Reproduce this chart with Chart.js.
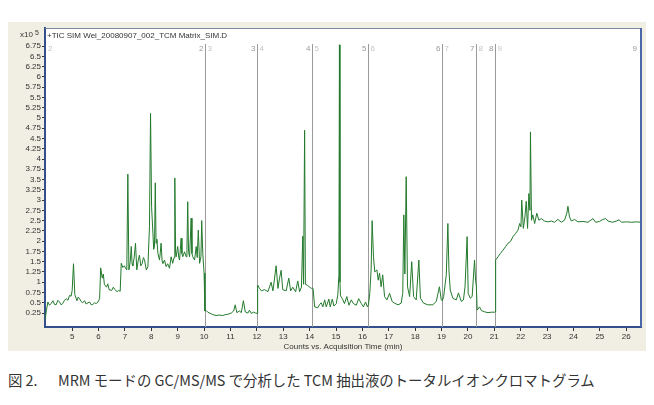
<!DOCTYPE html>
<html>
<head>
<meta charset="utf-8">
<script src="https://cdn.jsdelivr.net/npm/chart.js@4/dist/chart.umd.min.js"></script>
<style>
  body { margin: 0; background: #fff; }
  #wrap { position: relative; width: 654px; height: 405px; overflow: hidden; }
  #c { position: absolute; left: 0; top: 0; }
  #caption {
    position: absolute; left: 8px; top: 369px; white-space: nowrap;
    font-family: "Noto Sans CJK JP", sans-serif;
    font-size: 14.4px; color: #333;
  }
  #caption .fig { display: inline-block; width: 50px; }
</style>
</head>
<body>
<div id="wrap">
  <canvas id="c" width="654" height="358"></canvas>
  <div id="caption"><span class="fig">図 2.</span>MRM モードの GC/MS/MS で分析した TCM 抽出液のトータルイオンクロマトグラム</div>
</div>
<script>
// retention time (min) and abundance (x10^5 counts)
const times = [
  3.98, 4.02, 4.08, 4.14, 4.20, 4.27, 4.33, 4.39, 4.46, 4.52, 4.58, 4.64, 4.70, 4.77, 4.84, 4.90, 4.96, 5.00, 5.05, 5.10,
  5.18, 5.23, 5.28, 5.34, 5.40, 5.47, 5.53, 5.60, 5.66, 5.72, 5.78, 5.85, 5.91, 5.98, 6.04, 6.08, 6.14, 6.18, 6.22, 6.30,
  6.35, 6.40, 6.50, 6.56, 6.62, 6.70, 6.76, 6.82, 6.86, 6.92, 6.98, 7.03, 7.07, 7.11, 7.15, 7.20, 7.24, 7.27, 7.30, 7.35,
  7.40, 7.45, 7.50, 7.55, 7.60, 7.65, 7.70, 7.74, 7.81, 7.87, 7.93, 7.97, 8.01, 8.06, 8.09, 8.12, 8.15, 8.18, 8.21, 8.25,
  8.31, 8.34, 8.37, 8.41, 8.44, 8.50, 8.56, 8.62, 8.69, 8.75, 8.81, 8.86, 8.89, 8.92, 8.94, 9.00, 9.04, 9.07, 9.13, 9.16,
  9.19, 9.26, 9.32, 9.35, 9.38, 9.41, 9.45, 9.51, 9.54, 9.57, 9.64, 9.70, 9.74, 9.78, 9.83, 9.88, 9.91, 9.95, 10.00, 10.03,
  10.08, 10.14, 10.21, 10.33, 10.46, 10.58, 10.71, 10.80, 10.90, 11.03, 11.12, 11.18, 11.24, 11.34, 11.41, 11.49, 11.56, 11.66, 11.72, 11.79,
  11.87, 11.95, 12.01, 12.03, 12.10, 12.17, 12.29, 12.42, 12.54, 12.61, 12.73, 12.80, 12.86, 12.92, 12.98, 13.11, 13.21, 13.28, 13.36, 13.47,
  13.55, 13.62, 13.69, 13.74, 13.77, 13.81, 13.84, 13.93, 14.00, 14.07, 14.10, 14.13, 14.19, 14.31, 14.38, 14.44, 14.50, 14.57, 14.63, 14.73,
  14.78, 14.86, 14.92, 15.01, 15.07, 15.11, 15.13, 15.15, 15.17, 15.24, 15.32, 15.41, 15.49, 15.58, 15.66, 15.77, 15.86, 15.96, 16.04, 16.12,
  16.19, 16.23, 16.28, 16.33, 16.37, 16.42, 16.47, 16.55, 16.60, 16.65, 16.71, 16.77, 16.84, 16.93, 17.03, 17.13, 17.22, 17.35, 17.47, 17.53,
  17.57, 17.61, 17.66, 17.71, 17.79, 17.87, 17.94, 18.04, 18.14, 18.20, 18.32, 18.48, 18.67, 18.80, 18.92, 18.99, 19.03, 19.08, 19.18, 19.24,
  19.28, 19.33, 19.43, 19.56, 19.64, 19.75, 19.83, 19.89, 19.97, 20.01, 20.09, 20.16, 20.25, 20.29, 20.32, 20.35, 20.44, 20.51, 20.63, 20.76,
  20.89, 21.00, 21.04, 21.05, 21.14, 21.23, 21.33, 21.43, 21.52, 21.61, 21.71, 21.81, 21.90, 21.96, 22.01, 22.04, 22.10, 22.16, 22.21, 22.26,
  22.31, 22.35, 22.37, 22.41, 22.46, 22.53, 22.61, 22.69, 22.78, 22.90, 23.03, 23.16, 23.28, 23.41, 23.54, 23.66, 23.75, 23.79, 23.85, 23.92,
  24.04, 24.17, 24.36, 24.55, 24.74, 24.84, 24.99, 25.12, 25.22, 25.31, 25.48, 25.63, 25.73, 25.82, 26.01, 26.20, 26.39, 26.56
];
const counts = [
  0.10, 0.30, 0.52, 0.44, 0.48, 0.55, 0.46, 0.45, 0.56, 0.52, 0.45, 0.48, 0.55, 0.60, 0.56, 0.68, 0.66, 0.80, 1.45, 0.70,
  0.55, 0.64, 0.60, 0.53, 0.50, 0.55, 0.47, 0.50, 0.52, 0.45, 0.46, 0.50, 0.48, 0.52, 0.60, 1.35, 1.10, 1.20, 0.95, 0.88,
  0.96, 0.82, 0.80, 0.88, 0.82, 0.77, 0.80, 0.78, 1.46, 1.36, 1.40, 1.33, 1.30, 3.63, 1.30, 1.50, 1.87, 1.45, 1.40, 1.60,
  1.95, 1.30, 1.52, 1.66, 1.40, 1.45, 1.60, 1.55, 1.30, 1.38, 2.35, 5.11, 2.84, 2.20, 1.80, 1.87, 3.42, 1.95, 2.05, 1.70,
  1.54, 1.72, 1.95, 1.50, 1.46, 1.54, 1.38, 1.45, 1.34, 1.62, 1.46, 1.60, 3.54, 1.70, 1.62, 1.87, 1.60, 1.54, 2.07, 1.70,
  1.62, 1.74, 1.62, 1.80, 2.96, 1.75, 1.62, 2.56, 1.70, 1.62, 1.54, 1.87, 1.60, 2.27, 1.46, 1.62, 2.50, 1.70, 1.22, 0.30,
  0.31, 0.27, 0.25, 0.21, 0.19, 0.20, 0.19, 0.21, 0.22, 0.25, 0.30, 0.45, 0.26, 0.30, 0.26, 0.55, 0.28, 0.25, 0.32, 0.24,
  0.27, 0.25, 0.24, 0.93, 0.85, 0.79, 0.82, 0.77, 1.00, 0.79, 1.40, 0.85, 1.10, 1.29, 0.82, 0.79, 1.10, 0.79, 0.88, 0.77,
  1.03, 0.77, 0.88, 2.12, 0.95, 4.70, 0.95, 0.92, 0.88, 0.85, 0.86, 0.85, 0.40, 0.38, 0.46, 0.50, 0.40, 0.57, 0.40, 0.59,
  0.40, 0.59, 0.42, 0.48, 0.70, 1.18, 6.78, 1.00, 0.67, 0.60, 0.48, 0.65, 0.44, 0.57, 0.48, 0.44, 0.60, 0.48, 0.40, 0.52,
  0.40, 0.45, 0.73, 1.30, 2.50, 1.62, 1.25, 1.30, 1.05, 1.22, 0.89, 1.18, 0.65, 0.57, 0.73, 0.53, 0.49, 0.45, 0.49, 0.73,
  2.64, 1.20, 3.57, 0.89, 0.65, 1.50, 0.65, 0.57, 1.54, 0.61, 0.49, 0.45, 0.45, 0.53, 0.89, 0.57, 0.55, 0.65, 1.18, 2.43,
  1.30, 0.81, 0.61, 0.57, 0.74, 0.53, 0.57, 0.89, 2.11, 0.73, 0.61, 0.65, 1.54, 1.05, 0.90, 0.32, 0.40, 0.31, 0.28, 0.26,
  0.27, 0.27, 0.28, 1.54, 1.62, 1.70, 1.78, 1.87, 1.95, 1.99, 2.11, 2.19, 2.27, 2.43, 2.35, 3.00, 2.31, 2.59, 2.97, 2.31,
  3.16, 2.75, 4.66, 2.51, 2.64, 2.43, 2.68, 2.51, 2.55, 2.49, 2.47, 2.49, 2.46, 2.53, 2.46, 2.51, 2.68, 2.85, 2.59, 2.49,
  2.53, 2.47, 2.48, 2.46, 2.55, 2.46, 2.48, 2.53, 2.55, 2.49, 2.46, 2.49, 2.52, 2.46, 2.47, 2.46, 2.47, 2.46
];
const xTicks = [5, 6, 7, 8, 9, 10, 11, 12, 13, 14, 15, 16, 17, 18, 19, 20, 21, 22, 23, 24, 25, 26];
const yTicks = [0.25, 0.5, 0.75, 1, 1.25, 1.5, 1.75, 2, 2.25, 2.5, 2.75, 3, 3.25, 3.5, 3.75, 4, 4.25, 4.5, 4.75,
  5, 5.25, 5.5, 5.75, 6, 6.25, 6.5, 6.75];
// segment boundaries and their numbers
const segTimes = [10.02, 12.02, 14.10, 16.23, 19.02, 20.31, 21.03];
const segLeft = ["2", "3", "4", "5", "6", "7", "8"];
const segRight = ["3", "4", "5", "6", "7", "8", "9"];

const points = times.map((t, i) => ({ x: t, y: counts[i] }));

const framePlugin = {
  id: 'frame',
  beforeDraw(chart) {
    const { ctx, chartArea: a } = chart;
    ctx.save();
    ctx.fillStyle = '#f1efe3';
    ctx.fillRect(8, 22, 638, 329);
    ctx.fillStyle = '#ffffff';
    ctx.fillRect(a.left, a.top, a.right - a.left, a.bottom - a.top);
    ctx.restore();
  },
  beforeDatasetsDraw(chart) {
    const { ctx, chartArea: a, scales: { x } } = chart;
    ctx.save();
    ctx.font = '8px "Liberation Sans", Arial, sans-serif';
    ctx.textBaseline = 'middle';
    segTimes.forEach((t, i) => {
      const px = Math.round(x.getPixelForValue(t)) + 0.5;
      ctx.strokeStyle = '#9a9a9a';
      ctx.lineWidth = 1;
      ctx.beginPath();
      ctx.moveTo(px, 44);
      ctx.lineTo(px, a.bottom);
      ctx.stroke();
      ctx.fillStyle = '#9a9a9a';
      ctx.textAlign = 'right';
      ctx.fillText(segLeft[i], px - 2, 49);
      ctx.fillStyle = '#c4c4c4';
      ctx.textAlign = 'left';
      ctx.fillText(segRight[i], px + 2, 49);
    });
    ctx.fillStyle = '#c4c4c4';
    ctx.textAlign = 'left';
    ctx.fillText('2', a.left + 3, 49);
    ctx.fillStyle = '#9a9a9a';
    ctx.textAlign = 'right';
    ctx.fillText('9', a.right - 4, 49);
    // trace title
    ctx.fillStyle = '#333';
    ctx.textAlign = 'left';
    ctx.fillText('+TIC SIM Wei_20080907_002_TCM Matrix_SIM.D', a.left + 2, 36);
    ctx.restore();
  },
  afterDraw(chart) {
    const { ctx, chartArea: a } = chart;
    ctx.save();
    ctx.strokeStyle = '#7d8aa0';
    ctx.lineWidth = 1;
    ctx.beginPath();
    ctx.moveTo(a.left, a.top + 0.5);
    ctx.lineTo(a.right, a.top + 0.5);
    ctx.stroke();
    ctx.strokeStyle = '#4a68a8';
    ctx.lineWidth = 2;
    ctx.beginPath();
    ctx.moveTo(a.right, a.top);
    ctx.lineTo(a.right, a.bottom);
    ctx.stroke();
    ctx.fillStyle = '#333';
    ctx.font = '8px "Liberation Sans", Arial, sans-serif';
    ctx.textBaseline = 'middle';
    ctx.textAlign = 'right';
    ctx.fillText('x10', 33, 35);
    ctx.font = '7px "Liberation Sans", Arial, sans-serif';
    ctx.textAlign = 'left';
    ctx.fillText('5', 35, 33);
    ctx.font = '8px "Liberation Sans", Arial, sans-serif';
    ctx.textAlign = 'center';
    ctx.fillText('Counts vs. Acquisition Time (min)', (a.left + a.right) / 2, 347);
    ctx.restore();
  }
};

const tickFont = { family: '"Liberation Sans", Arial, sans-serif', size: 8 };

new Chart(document.getElementById('c'), {
  type: 'line',
  data: {
    datasets: [{
      data: points,
      borderColor: '#237a2c',
      borderWidth: 1,
      pointRadius: 0,
      tension: 0,
      fill: false
    }]
  },
  options: {
    responsive: false,
    animation: false,
    events: [],
    layout: { padding: { left: 0, right: 13, top: 28, bottom: 0 } },
    plugins: { legend: { display: false }, tooltip: { enabled: false } },
    scales: {
      x: {
        type: 'linear',
        min: 3.97,
        max: 26.56,
        afterBuildTicks: s => { s.ticks = xTicks.map(v => ({ value: v })); },
        afterFit: s => { s.height = 31; },
        grid: { drawOnChartArea: false, drawTicks: true, tickLength: 4, color: '#333' },
        border: { display: true, color: '#34508c', width: 2 },
        ticks: { font: tickFont, color: '#333', padding: 1, maxRotation: 0, autoSkip: false, callback: v => String(v) }
      },
      y: {
        type: 'linear',
        min: -0.09,
        max: 7.19,
        afterBuildTicks: s => { s.ticks = yTicks.map(v => ({ value: v })); },
        afterFit: s => { s.width = 45; },
        grid: { drawOnChartArea: false, drawTicks: true, tickLength: 3, color: '#333' },
        border: { display: true, color: '#34508c', width: 2 },
        ticks: { font: tickFont, color: '#333', padding: 1, autoSkip: false, callback: v => String(v) }
      }
    }
  },
  plugins: [framePlugin]
});
</script>
</body>
</html>
